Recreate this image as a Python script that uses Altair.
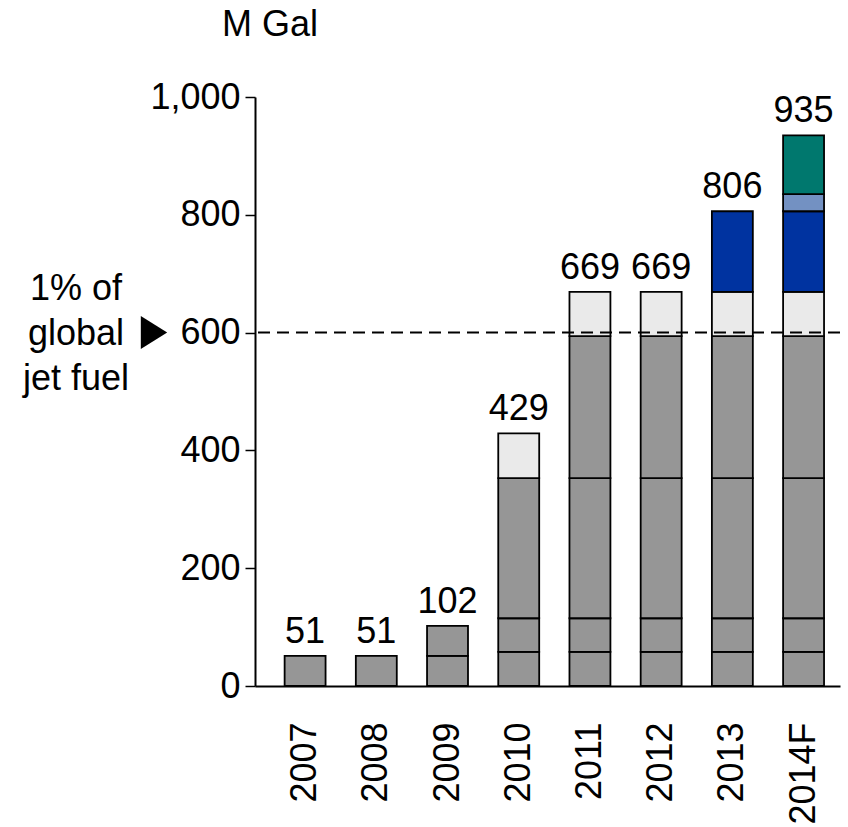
import altair as alt
import pandas as pd

# ---- data ----
years = ["2007", "2008", "2009", "2010", "2011", "2012", "2013", "2014F"]
seg_names = ["s1", "s2", "s3", "s4", "light", "blue", "lightblue", "teal"]
seg1 = [51, 51, 51, 58, 58, 58, 58, 58]
seg2 = [0, 0, 51, 57, 57, 57, 57, 57]
seg3 = [0, 0, 0, 238, 238, 238, 238, 238]
seg4 = [0, 0, 0, 0, 241, 241, 241, 241]
seg_light = [0, 0, 0, 76, 75, 75, 75, 75]
seg_blue = [0, 0, 0, 0, 0, 0, 137, 137]
seg_lightblue = [0, 0, 0, 0, 0, 0, 0, 29]
seg_teal = [0, 0, 0, 0, 0, 0, 0, 100]
totals = [51, 51, 102, 429, 669, 669, 806, 935]
threshold = [600]
y_ticks = [0, 200, 400, 600, 800, 1000]
unit_label = "M Gal"
note_lines = ["1% of", "global", "jet fuel"]
seg_colors = ["#969696", "#969696", "#969696", "#969696",
              "#EAEAEA", "#0033A0", "#7391C2", "#00786E"]

FONT = "Liberation Sans"

seg_values = [seg1, seg2, seg3, seg4, seg_light, seg_blue, seg_lightblue, seg_teal]
rows = []
for si, (name, vals) in enumerate(zip(seg_names, seg_values)):
    for yr, v in zip(years, vals):
        if v > 0:
            rows.append({"year": yr, "seg": name, "order": si, "value": v})
df = pd.DataFrame(rows)
df_tot = pd.DataFrame({"year": years, "total": totals})
df_thr = pd.DataFrame({"y": threshold})

x_enc = alt.X(
    "year:N",
    sort=years,
    scale=alt.Scale(paddingInner=0.425, paddingOuter=0.32, align=0.65),
    axis=alt.Axis(
        title=None, labelAngle=-90, labelFontSize=36, labelFont=FONT,
        labelColor="black", ticks=False, tickSize=0, labelPadding=36,
        domainColor="black", domainWidth=2, grid=False,
    ),
)

bars = alt.Chart(df).mark_bar(stroke="black", strokeWidth=1.8).encode(
    x=x_enc,
    y=alt.Y(
        "value:Q",
        stack="zero",
        scale=alt.Scale(domain=[0, 1000], nice=False),
        axis=alt.Axis(
            title=None, values=y_ticks, format=",d", labelFontSize=36,
            labelFont=FONT, labelColor="black", tickColor="black",
            tickSize=10, tickWidth=1.5, domainColor="black", domainWidth=2,
            labelPadding=5, grid=False,
        ),
    ),
    color=alt.Color("seg:N", scale=alt.Scale(domain=seg_names, range=seg_colors), legend=None),
    order=alt.Order("order:Q", sort="ascending"),
)

tot_text = alt.Chart(df_tot).mark_text(
    fontSize=36, font=FONT, baseline="alphabetic", dy=-13, color="black"
).encode(
    x=alt.X("year:N", sort=years),
    y=alt.Y("total:Q"),
    text=alt.Text("total:Q"),
)

rule = alt.Chart(df_thr).mark_rule(
    strokeDash=[12, 7], strokeWidth=2, color="black"
).encode(y="y:Q")

tri = alt.Chart(df_thr).mark_point(
    shape="M-0.8,-1L0.8,0L-0.8,1Z", filled=True, color="black",
    size=1089, opacity=1, strokeWidth=0,
).encode(x=alt.value(-101), y="y:Q")

note = alt.Chart(df_thr).mark_text(
    fontSize=36, font=FONT, align="center", baseline="middle",
    lineHeight=45, color="black", dy=-44,
).encode(x=alt.value(-179), y="y:Q", text=alt.value(note_lines))

unit = alt.Chart(df_thr).mark_text(
    fontSize=36, font=FONT, align="left", baseline="alphabetic", color="black"
).encode(x=alt.value(-33), y=alt.value(-61), text=alt.value(unit_label))

chart = (
    alt.layer(bars, rule, tot_text, tri, note, unit)
    .properties(
        width=585,
        height=589,
        autosize=alt.AutoSizeParams(type="none"),
        padding={"left": 255, "top": 97, "right": 8, "bottom": 141},
        background="white",
    )
    .configure_view(stroke=None)
)

chart.save("out.html", embed_options={"renderer": "svg", "actions": False})
